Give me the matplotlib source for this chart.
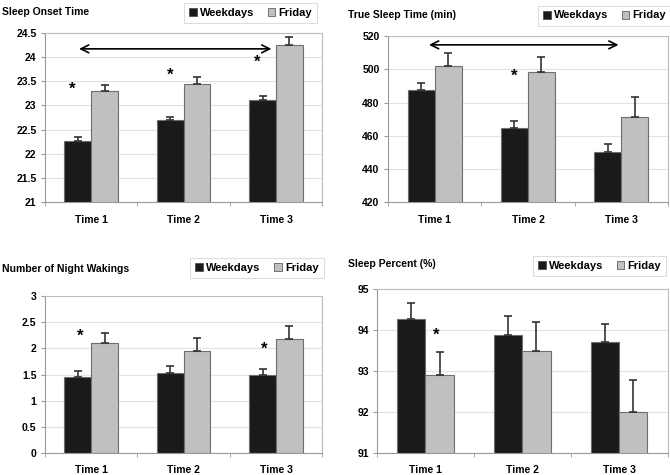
import matplotlib.pyplot as plt
from matplotlib.patches import Patch
import numpy as np

plt.rcParams['font.family'] = ['Liberation Sans', 'DejaVu Sans']
plt.rcParams['font.weight'] = 'bold'

times = ["Time 1", "Time 2", "Time 3"]

onset_week = [22.27, 22.70, 23.12]
onset_week_err = [0.07, 0.06, 0.08]
onset_fri = [23.30, 23.44, 24.25]
onset_fri_err = [0.12, 0.14, 0.17]

tst_week = [487.6, 464.8, 450.0]
tst_week_err = [4.2, 4.0, 4.8]
tst_fri = [501.8, 498.4, 471.0]
tst_fri_err = [8.2, 9.2, 12.4]

wake_week = [1.45, 1.53, 1.49]
wake_week_err = [0.11, 0.13, 0.12]
wake_fri = [2.11, 1.94, 2.18]
wake_fri_err = [0.19, 0.25, 0.25]

pct_week = [94.28, 93.89, 93.71]
pct_week_err = [0.38, 0.45, 0.43]
pct_fri = [92.90, 93.49, 92.00]
pct_fri_err = [0.56, 0.70, 0.77]

BLACK = '#1a1a1a'
GRAY = '#c0c0c0'
EDGE = '#6e6e6e'


def panel(ax, week, week_err, fri, fri_err, ylim, yticks, ylabels, pad=9):
    x = np.arange(len(times))
    w = 0.29
    ax.bar(x - w / 2, week, w, color=BLACK, edgecolor=EDGE, linewidth=0.8, zorder=2)
    ax.bar(x + w / 2, fri, w, color=GRAY, edgecolor=EDGE, linewidth=0.8, zorder=2)
    ax.errorbar(x - w / 2, week, yerr=[np.zeros(3), week_err], fmt='none',
                ecolor='#333333', elinewidth=1.2, capsize=3, capthick=1.2, zorder=3)
    ax.errorbar(x + w / 2, fri, yerr=[np.zeros(3), fri_err], fmt='none',
                ecolor='#333333', elinewidth=1.2, capsize=3, capthick=1.2, zorder=3)
    ax.set_xlim(-0.5, 2.5)
    ax.set_ylim(*ylim)
    ax.set_yticks(yticks)
    ax.set_yticklabels(ylabels, fontsize=7.5, fontweight='bold')
    ax.set_xticks(x)
    ax.set_xticklabels(times, fontsize=7.5, fontweight='bold')
    ax.set_xticks([-0.5, 0.5, 1.5, 2.5], minor=True)
    ax.tick_params(axis='x', which='major', length=0, pad=pad)
    ax.tick_params(axis='x', which='minor', length=3, color='#999999')
    ax.tick_params(axis='y', length=3, color='#999999', pad=3)
    ax.grid(axis='y', color='#e2e2e2', linewidth=0.8, zorder=0)
    ax.set_axisbelow(True)
    for s in ax.spines.values():
        s.set_color('#bdbdbd')
        s.set_linewidth(0.8)
    ax.spines['left'].set_color('#999999')
    ax.spines['bottom'].set_color('#999999')


def legend(fig, x0, y0, w, h):
    handles = [Patch(facecolor=BLACK, edgecolor='#444444', linewidth=0.5),
               Patch(facecolor=GRAY, edgecolor='#444444', linewidth=0.5)]
    leg = fig.legend(handles, ["Weekdays", "Friday"], loc='center',
                     bbox_to_anchor=(x0, y0, w, h), ncol=2, fontsize=8,
                     handlelength=0.7, handleheight=0.7, handletextpad=0.3,
                     columnspacing=1.2, fancybox=False, framealpha=1,
                     edgecolor='#dddddd', borderpad=0.45)
    leg.get_frame().set_linewidth(0.8)
    for t in leg.get_texts():
        t.set_fontweight('bold')


def star(ax, x, y):
    ax.text(x, y, '*', fontsize=12, fontweight='bold', ha='center', va='center')


def arrow(ax, x0, x1, y):
    ax.annotate('', xy=(x1, y), xytext=(x0, y),
                arrowprops=dict(arrowstyle='<->', color='black', lw=1.2,
                                mutation_scale=14, shrinkA=0, shrinkB=0))


fig = plt.figure(figsize=(6.7, 4.75), dpi=100)

ax1 = fig.add_axes([0.067, 0.5747, 0.414, 0.356])
panel(ax1, onset_week, onset_week_err, onset_fri, onset_fri_err, (21, 24.5),
      np.arange(21, 24.51, 0.5), ['21', '21.5', '22', '22.5', '23', '23.5', '24', '24.5'])
arrow(ax1, -0.13, 1.95, 24.17)
star(ax1, -0.21, 23.34)
star(ax1, 0.86, 23.62)
star(ax1, 1.80, 23.89)

ax2 = fig.add_axes([0.579, 0.5747, 0.418, 0.349])
panel(ax2, tst_week, tst_week_err, tst_fri, tst_fri_err, (420, 520),
      np.arange(420, 521, 20), [str(v) for v in range(420, 521, 20)])
arrow(ax2, -0.06, 1.97, 514.8)
star(ax2, 0.85, 495.8)

ax3 = fig.add_axes([0.067, 0.0463, 0.414, 0.3305])
panel(ax3, wake_week, wake_week_err, wake_fri, wake_fri_err, (0, 3),
      np.arange(0, 3.01, 0.5), ['0', '0.5', '1', '1.5', '2', '2.5', '3'], pad=8.5)
star(ax3, -0.12, 2.24)
star(ax3, 1.87, 1.98)

ax4 = fig.add_axes([0.5627, 0.0463, 0.434, 0.3453])
panel(ax4, pct_week, pct_week_err, pct_fri, pct_fri_err, (91, 95),
      np.arange(91, 95.1, 1), ['91', '92', '93', '94', '95'], pad=8.5)
star(ax4, 0.11, 93.87)

# panel titles
fig.text(0.003, 0.974, 'Sleep Onset Time', fontsize=7.5, fontweight='bold', va='center')
fig.text(0.519, 0.968, 'True Sleep Time (min)', fontsize=7.5, fontweight='bold', va='center')
fig.text(0.003, 0.434, 'Number of Night Wakings', fontsize=7.5, fontweight='bold', va='center')
fig.text(0.519, 0.444, 'Sleep Percent (%)', fontsize=7.5, fontweight='bold', va='center')

# legends (figure fractions)
legend(fig, 184 / 670, 1 - 25 / 475, 133 / 670, 25 / 475)
legend(fig, 541 / 670, 1 - 26 / 475, 127 / 670, 21 / 475)
legend(fig, 193 / 670, 1 - 278 / 475, 128 / 670, 20 / 475)
legend(fig, 531 / 670, 1 - 277 / 475, 137 / 670, 22 / 475)

fig.savefig('out.png', dpi=100)
